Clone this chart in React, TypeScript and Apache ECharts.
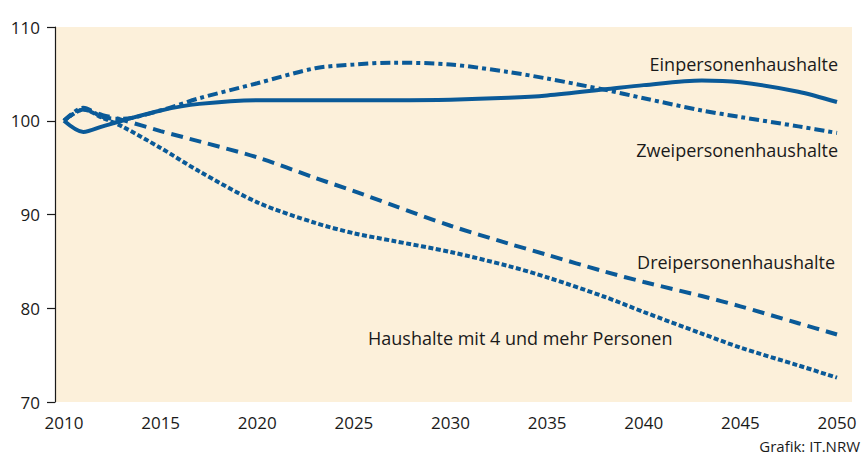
import React, { useEffect, useRef } from "react";
import * as echarts from "echarts";

const years = [2010, 2011, 2012, 2013, 2015, 2017, 2020, 2023, 2025, 2027, 2030, 2033, 2035, 2038, 2040, 2043, 2045, 2048, 2050];
const einpersonen = [100, 98.8, 99.4, 100.0, 101.1, 101.8, 102.2, 102.2, 102.2, 102.2, 102.25, 102.45, 102.7, 103.35, 103.8, 104.3, 104.1, 103.1, 102.0];
const zweipersonen = [100, 101.4, 100.4, 100.2, 101.1, 102.4, 104.0, 105.6, 106.0, 106.2, 106.0, 105.2, 104.5, 103.3, 102.4, 101.1, 100.4, 99.4, 98.7];
const dreipersonen = [100, 101.2, 100.6, 100.1, 98.9, 97.8, 96.1, 93.9, 92.5, 91.0, 88.8, 86.9, 85.7, 83.9, 82.8, 81.3, 80.2, 78.4, 77.2];
const vierUndMehr = [100, 101.2, 100.3, 99.4, 97.1, 94.6, 91.3, 89.1, 88.0, 87.2, 86.0, 84.5, 83.3, 81.2, 79.6, 77.3, 75.8, 73.9, 72.6];
const seriesNames = ["Einpersonenhaushalte", "Zweipersonenhaushalte", "Dreipersonenhaushalte", "Haushalte mit 4 und mehr Personen"];
const credit = "Grafik: IT.NRW";

const BLUE = "#0a5a98";
const INK = "#1a1a1a";
const FONT = "'Open Sans', 'Noto Sans', sans-serif";

export default function App() {
  const ref = useRef<HTMLDivElement>(null);
  useEffect(() => {
    if (!ref.current) return;
    const chart = echarts.init(ref.current, null, { renderer: "svg" });
    const pairs = (vals: number[]) => years.map((y, i) => [y, vals[i]]);
    const mk = (name: string, vals: number[], dash: any) => ({
      name,
      type: "line",
      data: pairs(vals),
      smooth: 0.3,
      showSymbol: false,
      symbol: "none",
      lineStyle: { color: BLUE, width: 4, type: dash, cap: "butt" },
      z: 5,
    });
    const label = (text: string, x: number, y: number, align: string) => ({
      type: "text",
      x,
      y,
      style: { text, fill: INK, font: `18px ${FONT}`, align, verticalAlign: "middle" },
    });
    chart.setOption({
      animation: false,
      textStyle: { fontFamily: FONT },
      grid: { left: 64, right: 30, top: 27, bottom: 56 },
      xAxis: {
        type: "value",
        min: 2010,
        max: 2050,
        interval: 5,
        axisLine: { show: false },
        axisTick: { show: false },
        splitLine: { show: false },
        axisLabel: { color: INK, fontSize: 17, margin: 12, fontFamily: FONT, formatter: (v: number) => String(v) },
      },
      yAxis: {
        type: "value",
        min: 70,
        max: 110,
        interval: 10,
        offset: 9,
        axisLine: { show: true, lineStyle: { color: INK, width: 1.2 } },
        axisTick: { show: true, inside: false, length: 8, lineStyle: { color: INK, width: 1.2 } },
        splitLine: { show: false },
        axisLabel: { color: INK, fontSize: 17, margin: 15, fontFamily: FONT },
      },
      graphic: [
        { type: "rect", shape: { x: 56, y: 27, width: 796, height: 375 }, style: { fill: "#fcf0da" }, z: -10, silent: true },
        label(seriesNames[0], 838, 64, "right"),
        label(seriesNames[1], 838, 150, "right"),
        label(seriesNames[2], 835, 262, "right"),
        label(seriesNames[3], 368, 338, "left"),
        { type: "text", x: 860, y: 446, style: { text: credit, fill: INK, font: `15px ${FONT}`, align: "right", verticalAlign: "middle" } },
      ],
      series: [
        mk(seriesNames[0], einpersonen, "solid"),
        mk(seriesNames[1], zweipersonen, [10, 4, 4, 4]),
        mk(seriesNames[2], dreipersonen, [12, 7]),
        mk(seriesNames[3], vierUndMehr, [5, 2.5]),
      ],
    });
    return () => chart.dispose();
  }, []);
  return <div ref={ref} style={{ width: 867, height: 458, position: "absolute", left: 0, top: 0 }} />;
}
